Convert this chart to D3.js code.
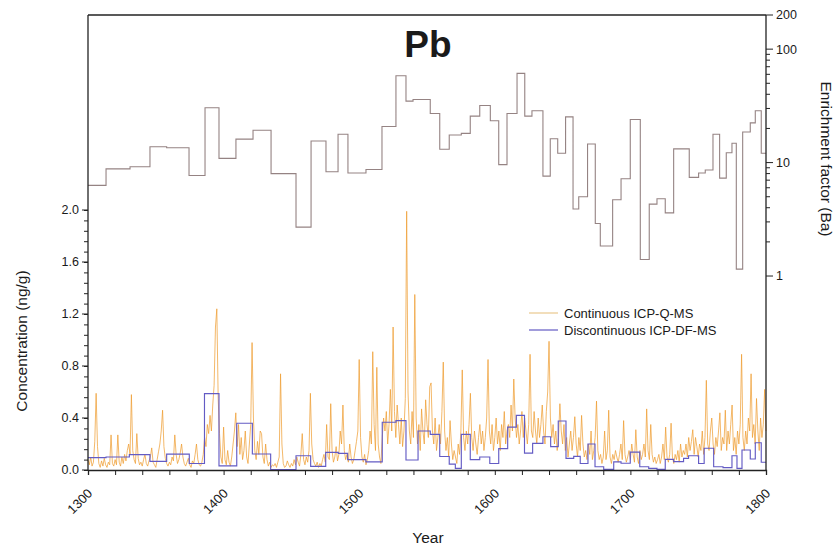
<!DOCTYPE html>
<html><head><meta charset="utf-8">
<script src="https://cdn.jsdelivr.net/npm/d3@7"></script>
<style>
body{margin:0;background:#fff;}
text{font-family:"Liberation Sans",Arial,Helvetica,sans-serif;fill:#1a1a1a;}
</style></head>
<body><svg id="c" width="837" height="548"></svg>
<script>
// ---- data ----
const xTicks = [1300,1400,1500,1600,1700,1800];
const concTicks = [0.0,0.4,0.8,1.2,1.6,2.0];
const efTicks = [1,10,100,200];

// Continuous ICP-Q-MS (ng/g), one value per year 1300..1800
const contStart = 1300;
const contValues = [
0.08,0.04,0.10,0.03,0.06,0.22,0.59,0.18,0.05,0.02,
0.07,0.03,0.09,0.04,0.02,0.06,0.04,0.27,0.05,0.03,
0.08,0.04,0.27,0.06,0.03,0.10,0.05,0.12,0.07,0.15,
0.20,0.12,0.58,0.15,0.08,0.05,0.28,0.09,0.04,0.06,
0.03,0.08,0.12,0.05,0.03,0.07,0.10,0.17,0.06,0.04,
0.02,0.08,0.14,0.20,0.30,0.46,0.18,0.09,0.05,0.03,
0.06,0.04,0.10,0.07,0.27,0.12,0.05,0.08,0.13,0.20,
0.10,0.05,0.03,0.06,0.09,0.04,0.02,0.07,0.05,0.12,
0.20,0.08,0.04,0.03,0.06,0.12,0.25,0.18,0.35,0.28,
0.42,0.30,0.50,0.65,1.10,1.24,0.55,0.28,0.10,0.05,
0.33,0.08,0.04,0.15,0.06,0.03,0.10,0.20,0.30,0.44,
0.18,0.35,0.12,0.25,0.08,0.15,0.30,0.10,0.05,0.20,
0.35,0.98,0.40,0.15,0.08,0.22,0.12,0.30,0.28,0.10,
0.05,0.20,0.08,0.03,0.06,0.02,0.04,0.03,0.05,0.02,
0.06,0.10,0.74,0.20,0.05,0.02,0.03,0.07,0.04,0.02,
0.05,0.03,0.08,0.04,0.10,0.06,0.03,0.12,0.28,0.08,
0.04,0.10,0.06,0.15,0.59,0.20,0.08,0.05,0.03,0.06,
0.02,0.05,0.03,0.08,0.12,0.06,0.35,0.10,0.08,0.51,
0.15,0.06,0.10,0.18,0.07,0.12,0.30,0.20,0.50,0.15,
0.08,0.12,0.06,0.20,0.10,0.05,0.08,0.15,0.22,0.30,
0.85,0.25,0.10,0.06,0.12,0.04,0.08,0.15,0.30,0.20,
0.91,0.35,0.15,0.79,0.20,0.10,0.05,0.25,0.40,0.30,
0.45,0.20,0.35,0.62,0.30,1.10,0.45,0.25,0.50,0.35,
0.20,0.40,0.18,0.30,0.55,1.99,0.60,0.30,0.20,0.45,
0.25,1.35,0.40,0.20,0.35,0.15,0.47,0.30,0.20,0.54,
0.35,0.25,0.64,0.67,0.30,0.20,0.40,0.15,0.25,0.35,
0.20,0.45,0.83,0.30,0.15,0.25,0.10,0.38,0.20,0.08,
0.15,0.10,0.05,0.20,0.12,0.30,0.77,0.25,0.15,0.30,
0.20,0.35,0.59,0.25,0.15,0.30,0.20,0.12,0.25,0.35,
0.20,0.30,0.15,0.25,0.40,0.85,0.30,0.20,0.35,0.15,
0.25,0.40,0.20,0.30,0.15,0.35,0.25,0.45,0.20,0.30,
0.35,0.25,0.50,0.30,0.70,0.40,0.25,0.35,0.20,0.30,
0.45,0.25,0.40,0.30,0.20,0.35,0.89,0.30,0.25,0.45,
0.30,0.20,0.40,0.25,0.35,0.50,0.30,0.20,0.45,0.60,
0.99,0.40,0.25,0.35,0.20,0.30,0.15,0.25,0.51,0.30,
0.20,0.35,0.15,0.25,0.10,0.20,0.30,0.15,0.25,0.41,
0.20,0.10,0.25,0.15,0.42,0.20,0.10,0.15,0.08,0.20,
0.12,0.30,0.08,0.15,0.25,0.53,0.15,0.08,0.12,0.05,
0.10,0.30,0.08,0.15,0.46,0.10,0.05,0.12,0.08,0.15,
0.10,0.06,0.12,0.20,0.08,0.38,0.12,0.06,0.10,0.15,
0.08,0.20,0.12,0.06,0.31,0.10,0.05,0.15,0.08,0.12,
0.20,0.10,0.47,0.15,0.08,0.35,0.12,0.06,0.10,0.05,
0.08,0.12,0.05,0.10,0.20,0.08,0.33,0.10,0.06,0.12,
0.36,0.10,0.05,0.12,0.08,0.15,0.06,0.20,0.10,0.15,
0.12,0.20,0.10,0.25,0.15,0.22,0.31,0.12,0.25,0.18,
0.10,0.20,0.15,0.30,0.12,0.25,0.69,0.20,0.15,0.30,
0.40,0.20,0.12,0.25,0.18,0.30,0.44,0.15,0.25,0.20,
0.46,0.15,0.30,0.20,0.35,0.50,0.15,0.25,0.12,0.30,
0.20,0.35,0.89,0.25,0.15,0.30,0.20,0.40,0.30,0.74,
0.25,0.35,0.20,0.55,0.30,0.15,0.40,0.25,0.35,0.62,
0.30];

// Discontinuous ICP-DF-MS (ng/g): sample start years and values
const dfStarts = [1300,1313.3,1330.5,1345.7,1358,1374.7,1385.9,1396.6,1409.7,1421.2,
1434.7,1453.4,1464.2,1475.3,1484.6,1491.5,1505,1517,1527.1,1534.5,
1543.4,1552.4,1559.4,1566.4,1570.9,1575.3,1581.9,1588.9,1596.3,1602.9,
1609.5,1615.9,1621.9,1627.9,1635.5,1641.2,1646.8,1652.5,1658.2,1663,
1668.7,1673.9,1680.3,1687.7,1693.1,1699.9,1706.9,1713.5,1719.6,1725.7,
1731.9,1739.2,1742.9,1750.3,1754.4,1761.4,1768.3,1774.9,1778.6,1782.3,
1788.4,1792.1,1796.5];
const dfValues = [0.095,0.10,0.118,0.066,0.122,0.05,0.587,0.032,0.36,0.123,
0.003,0.11,0.028,0.136,0.128,0.08,0.062,0.367,0.38,0.077,
0.30,0.274,0.104,0.045,0.012,0.274,0.08,0.10,0.05,0.165,
0.33,0.42,0.13,0.205,0.256,0.18,0.377,0.09,0.105,0.05,
0.20,0.025,0.005,0.062,0.052,0.138,0.025,0.013,0.005,0.082,
0.064,0.09,0.11,0.05,0.167,0.025,0.018,0.11,0.013,0.154,
0.085,0.21,0.06];

// Enrichment factor (Ba): sample start years and values
const efStarts = [1300,1313.3,1331,1345.7,1358,1374.5,1386.3,1396.6,1409.1,1421.7,
1435,1453.4,1464.5,1475.5,1484.4,1491.7,1505,1516.8,1527.1,1534.5,
1539.7,1552.4,1559.4,1566.4,1575.3,1581.9,1588.9,1596.7,1602.9,1609,
1616.4,1622.1,1627.4,1635.5,1640.9,1646.4,1652.2,1657.7,1661.9,1668.4,
1674.1,1677.8,1686.9,1693.1,1699.9,1707.3,1713.9,1719.6,1725.7,1731.9,
1743.4,1750.3,1755.2,1760.9,1765.8,1770.7,1774.9,1778.1,1782.8,1788.4,
1792.1,1796.5];
const efValues = [6.3,8.8,9.2,13.8,13.5,7.7,30.4,10.9,16.1,19.3,
8.0,2.7,15.5,8.3,17.8,8.1,8.7,20.8,58.2,34.8,
36.0,27.1,13.1,17.5,18.1,25.7,31.9,23.4,9.6,27.1,
61.1,25.7,28.6,7.6,16.2,12.1,25.3,3.9,5.0,14.6,
2.9,1.84,4.7,7.2,24.0,1.40,4.3,4.8,3.6,13.2,
7.4,8.1,8.6,17.8,7.3,12.2,14.8,1.15,18.6,22.4,
28.6,12.1];
const endYear = 1800;

// ---- drawing ----
const svg = d3.select("#c");
const L = 88, R = 766, T = 15, B = 470;
const x = d3.scaleLinear().domain([1300,1800]).range([L,R]);
const yC = d3.scaleLinear().domain([0,2.0]).range([B,210]);
const yE = d3.scaleLog().domain([0.0195,200]).range([B,T]);

const g = svg.append("g");

// continuous
const contPts = contValues.map((v,i)=>[contStart+i, v]);
g.append("path").datum(contPts)
  .attr("d", d3.line().x(d=>x(d[0])).y(d=>yC(d[1])))
  .attr("fill","none").attr("stroke","#ee9c30").attr("stroke-width",0.85).attr("stroke-opacity",0.85);

function stepPts(starts, vals){
  const p = starts.map((s,i)=>[s, vals[i]]);
  p.push([endYear, vals[vals.length-1]]);
  return p;
}
// discontinuous
g.append("path").datum(stepPts(dfStarts, dfValues))
  .attr("d", d3.line().curve(d3.curveStepAfter).x(d=>x(d[0])).y(d=>yC(d[1])))
  .attr("fill","none").attr("stroke","#635bc4").attr("stroke-width",1.15);

// EF
g.append("path").datum(stepPts(efStarts, efValues))
  .attr("d", d3.line().curve(d3.curveStepAfter).x(d=>x(d[0])).y(d=>yE(d[1])))
  .attr("fill","none").attr("stroke","#958383").attr("stroke-width",1.1);

// frame
svg.append("line").attr("x1",L).attr("x2",R).attr("y1",T).attr("y2",T).attr("stroke","#222").attr("stroke-width",1.3);
svg.append("line").attr("x1",L).attr("x2",L).attr("y1",T).attr("y2",B).attr("stroke","#222").attr("stroke-width",1.3);
svg.append("line").attr("x1",R).attr("x2",R).attr("y1",T).attr("y2",B).attr("stroke","#222").attr("stroke-width",1.3);

// x axis
const xAx = svg.append("g").attr("transform",`translate(0,${B})`)
  .call(d3.axisBottom(x).tickValues(d3.range(1300,1801,20)).tickSize(5).tickFormat(""));
xAx.select(".domain").attr("stroke","#222").attr("stroke-width",1.3);
xAx.selectAll(".tick line").attr("stroke","#222");
xTicks.forEach(t=>{
  svg.append("text").attr("transform",`translate(${x(t)+2},${B+21}) rotate(-45)`)
    .attr("text-anchor","end").attr("font-size",13).attr("dy","0.35em").text(t);
});

// left axis
const lAx = svg.append("g").attr("transform",`translate(${L},0)`)
  .call(d3.axisLeft(yC).tickValues(d3.range(0,2.001,0.08)).tickSize(4).tickFormat(""));
lAx.select(".domain").remove();
lAx.selectAll(".tick line").attr("stroke","#222");
concTicks.forEach(t=>{
  svg.append("line").attr("x1",L-6).attr("x2",L).attr("y1",yC(t)).attr("y2",yC(t)).attr("stroke","#222");
  svg.append("text").attr("x",L-9).attr("y",yC(t)).attr("dy","0.35em").attr("text-anchor","end")
    .attr("font-size",12.5).text(t.toFixed(1));
});

// right axis
const minorEF = [2,3,4,5,6,7,8,9,20,30,40,50,60,70,80,90];
minorEF.forEach(t=>{
  svg.append("line").attr("x1",R).attr("x2",R+4).attr("y1",yE(t)).attr("y2",yE(t)).attr("stroke","#222");
});
efTicks.forEach(t=>{
  svg.append("line").attr("x1",R).attr("x2",R+7).attr("y1",yE(t)).attr("y2",yE(t)).attr("stroke","#222");
  svg.append("text").attr("x",R+10).attr("y",yE(t)).attr("dy","0.35em").attr("font-size",12.5).text(t);
});

// titles
svg.append("text").attr("x",428).attr("y",57).attr("text-anchor","middle")
  .attr("font-size",37).attr("font-weight","bold").attr("fill","#000").text("Pb");
svg.append("text").attr("transform","translate(27,341) rotate(-90)").attr("text-anchor","middle")
  .attr("font-size",15.5).text("Concentration (ng/g)");
svg.append("text").attr("transform","translate(821,159) rotate(90)").attr("text-anchor","middle")
  .attr("font-size",15.5).text("Enrichment factor (Ba)");
svg.append("text").attr("x",428).attr("y",543).attr("text-anchor","middle")
  .attr("font-size",15.5).text("Year");

// legend
const leg = [{name:"Continuous ICP-Q-MS", color:"#e9c98e", y:313},
             {name:"Discontinuous ICP-DF-MS", color:"#635bc4", y:330}];
leg.forEach(d=>{
  svg.append("line").attr("x1",529).attr("x2",558).attr("y1",d.y).attr("y2",d.y)
    .attr("stroke",d.color).attr("stroke-width",1.2);
  svg.append("text").attr("x",564).attr("y",d.y).attr("dy","0.35em").attr("font-size",13).text(d.name);
});
</script></body></html>
